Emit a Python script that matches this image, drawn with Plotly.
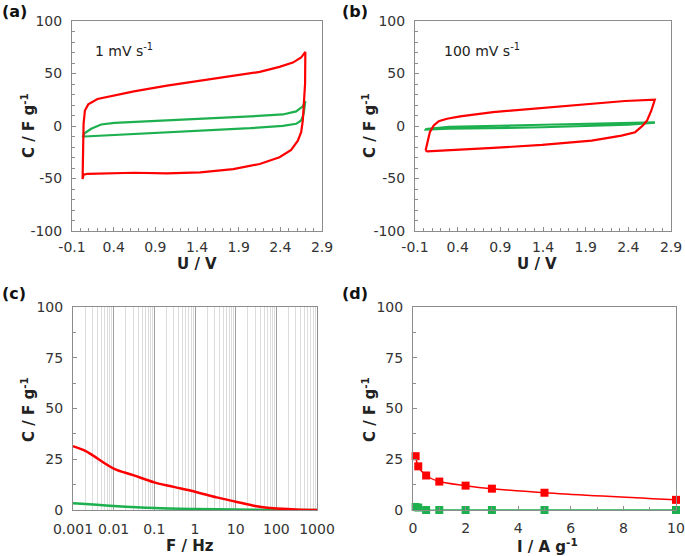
import plotly.graph_objects as go

# ---------------- data ----------------
# (a) CV at 1 mV/s
a_red_U = [0.027, 0.031, 0.039, 0.055, 0.095, 0.206, 0.405, 0.643, 1.04, 1.44, 1.835, 2.153, 2.39, 2.55, 2.65, 2.70,
           2.697, 2.685, 2.67, 2.65, 2.61, 2.53, 2.39, 2.153, 1.835, 1.44, 1.04, 0.643, 0.246, 0.087, 0.039, 0.027]
a_red_C = [-50.6, -23.4, 2.1, 14.8, 20.6, 25.7, 29.2, 33.0, 38.4, 43.2, 47.4, 51.5, 56.3, 60.4, 65.2, 70.6,
           40.3, 18.0, 5.3, -5.9, -13.9, -22.8, -29.8, -36.2, -41.0, -44.2, -45.1, -44.5, -44.8, -45.5, -46.4, -50.6]
a_grn_U = [0.027, 0.05, 0.13, 0.25, 0.41, 0.85, 1.44, 2.04, 2.43, 2.59, 2.67, 2.70,
           2.68, 2.65, 2.59, 2.43, 2.04, 1.44, 0.85, 0.25, 0.05, 0.027]
a_grn_C = [-10.7, -6.9, -2.7, 1.4, 3.0, 4.6, 6.5, 9.1, 11.0, 13.9, 18.7, 23.8,
           11.6, 5.3, 2.1, 0.2, -2.1, -4.3, -6.9, -9.1, -10.0, -10.7]

# (b) CV at 100 mV/s
b_red_U = [0.024, 0.074, 0.12, 0.178, 0.275, 0.43, 0.815, 1.39, 1.97, 2.36, 2.71,
           2.67, 2.62, 2.57, 2.48, 2.32, 1.97, 1.39, 0.815, 0.236, 0.043, 0.024]
b_red_C = [-23.4, -5.9, 0.5, 4.6, 6.9, 9.1, 13.2, 17.4, 21.2, 23.8, 25.0,
           14.8, 5.3, 0.5, -5.9, -9.1, -13.9, -18.0, -20.9, -22.8, -24.1, -23.4]
b_grn_U = [0.02, 0.3, 1.4, 2.7, 2.7, 2.4, 1.4, 0.3, 0.02, 0.02]
b_grn_C = [-3.0, -0.8, 1.2, 3.5, 3.0, 1.2, -1.2, -2.6, -3.5, -3.0]

# (c) capacitance vs frequency
c_red_F = [0.001, 0.002, 0.003, 0.01, 0.03, 0.1, 0.3, 1, 3.4, 10, 30, 60, 100, 300, 1000]
c_red_C = [31.4, 29.1, 27.0, 20.4, 17.2, 13.6, 11.4, 9.0, 6.2, 4.1, 2.0, 1.1, 0.8, 0.3, 0.0]
c_grn_F = [0.001, 0.01, 0.1, 1, 10, 100, 1000]
c_grn_C = [3.3, 2.0, 1.0, 0.5, 0.2, 0.05, 0.0]

# (d) capacitance vs current density
d_I = [0.1, 0.2, 0.5, 1, 2, 3, 5, 10]
d_red_C = [26.5, 21.5, 17.0, 14.0, 12.0, 10.5, 8.5, 5.0]
d_grn_C = [1.5, 1.2, 0.0, 0.0, 0.0, 0.0, 0.0, 0.0]

# tick labels
U_ticks = [-0.1, 0.4, 0.9, 1.4, 1.9, 2.4, 2.9]
U_ticktext = ["-0.1", "0.4", "0.9", "1.4", "1.9", "2.4", "2.9"]
Ccv_ticks = [-100, -50, 0, 50, 100]
Ccv_ticktext = ["-100", "-50", "0", "50", "100"]
F_ticks = [0.001, 0.01, 0.1, 1, 10, 100, 1000]
F_ticktext = ["0.001", "0.01", "0.1", "1", "10", "100", "1000"]
F_minor = [m * 10.0 ** e for e in range(-3, 3) for m in range(2, 10)]

RED = "#FF0000"
GREEN = "#1DB04F"
W, H = 685, 556

def dx(p0, p1):
    return [p0 / W, p1 / W]

def dy(p_top, p_bot):
    return [1 - p_bot / H, 1 - p_top / H]

fig = go.Figure()

fig.add_trace(go.Scatter(x=a_grn_U, y=a_grn_C, mode="lines", line=dict(color=GREEN, width=2.2), xaxis="x", yaxis="y"))
fig.add_trace(go.Scatter(x=a_red_U, y=a_red_C, mode="lines", line=dict(color=RED, width=2.2), xaxis="x", yaxis="y"))
fig.add_trace(go.Scatter(x=b_grn_U, y=b_grn_C, mode="lines", line=dict(color=GREEN, width=2.2), xaxis="x2", yaxis="y2"))
fig.add_trace(go.Scatter(x=b_red_U, y=b_red_C, mode="lines", line=dict(color=RED, width=2.2), xaxis="x2", yaxis="y2"))
fig.add_trace(go.Scatter(x=c_grn_F, y=c_grn_C, mode="lines", line=dict(color=GREEN, width=2.5, shape="spline"), xaxis="x3", yaxis="y3"))
fig.add_trace(go.Scatter(x=c_red_F, y=c_red_C, mode="lines", line=dict(color=RED, width=2.5, shape="spline"), xaxis="x3", yaxis="y3"))
fig.add_trace(go.Scatter(x=d_I, y=d_grn_C, mode="lines+markers", line=dict(color=GREEN, width=1.5, shape="spline"),
                         marker=dict(symbol="square", size=8, color=GREEN), cliponaxis=False, xaxis="x4", yaxis="y4"))
fig.add_trace(go.Scatter(x=d_I, y=d_red_C, mode="lines+markers", line=dict(color=RED, width=1.5, shape="spline"),
                         marker=dict(symbol="square", size=8, color=RED), cliponaxis=False, xaxis="x4", yaxis="y4"))

AXC = "#8C8C8C"
TICKF = dict(family="DejaVu Sans, Verdana, sans-serif", size=14, color="#333333")

def lin_axis(domain, rng, dtick, minor_dtick, anchor, standoff, tickvals=None, ticktext=None):
    d = dict(domain=domain, range=rng, showgrid=False, zeroline=False,
             showline=True, linecolor=AXC, linewidth=1, mirror=True, ticks="inside", ticklen=4,
             tickcolor=AXC, tickfont=TICKF, anchor=anchor, fixedrange=True, automargin=False,
             ticklabelstandoff=standoff,
             minor=dict(dtick=minor_dtick, tick0=rng[0], ticks="inside", ticklen=3, tickcolor=AXC, showgrid=False))
    if tickvals is not None:
        d.update(tickmode="array", tickvals=tickvals, ticktext=ticktext)
    else:
        d.update(dtick=dtick, tick0=rng[0])
    return d

layout = dict(width=W, height=H, margin=dict(l=0, r=0, t=0, b=0, pad=0, autoexpand=False), showlegend=False,
              paper_bgcolor="white", plot_bgcolor="white")

top = dy(21, 231)
bot = dy(307, 510)
layout["xaxis"] = lin_axis(dx(72, 322), [-0.1, 2.9], 0.5, 0.1, "y", 3, U_ticks, U_ticktext)
layout["yaxis"] = lin_axis(top, [-100, 100], 50, 10, "x", 6, Ccv_ticks, Ccv_ticktext)
layout["xaxis2"] = lin_axis(dx(415, 671), [-0.1, 2.9], 0.5, 0.1, "y2", 3, U_ticks, U_ticktext)
layout["yaxis2"] = lin_axis(top, [-100, 100], 50, 10, "x2", 6, Ccv_ticks, Ccv_ticktext)
layout["xaxis3"] = dict(domain=dx(73, 317), type="log", range=[-3, 3], tickmode="array",
                        tickvals=F_ticks, ticktext=F_ticktext,
                        showgrid=True, gridcolor="#A0A0A0", gridwidth=1, zeroline=False,
                        showline=True, linecolor=AXC, mirror=True, ticks="", tickfont=TICKF, anchor="y3",
                        fixedrange=True, automargin=False, ticklabelstandoff=6,
                        minor=dict(tickmode="array", tickvals=F_minor, showgrid=True,
                                   gridcolor="#DCDCDC", gridwidth=1, ticks=""))
layout["yaxis3"] = lin_axis(bot, [0, 100], 25, 12.5, "x3", 6)
layout["xaxis4"] = lin_axis(dx(413, 676), [0, 10], 2, 1, "y4", 5)
layout["yaxis4"] = lin_axis(bot, [0, 100], 25, 12.5, "x4", 6)

fig.update_layout(**layout)

TF = dict(family="DejaVu Sans, Verdana, sans-serif", size=15, color="#222222")
LF = dict(family="DejaVu Sans, Verdana, sans-serif", size=16, color="#111111")
NF = dict(family="DejaVu Sans, Verdana, sans-serif", size=14, color="#222222")

def ann(text, px, py, font, angle=0, xanchor="center", yanchor="middle"):
    fig.add_annotation(text=text, x=px / W, y=1 - py / H, xref="paper", yref="paper", showarrow=False,
                       font=font, textangle=angle, xanchor=xanchor, yanchor=yanchor)

# panel labels
ann("<b>(a)</b>", 0, 12, LF, xanchor="left")
ann("<b>(b)</b>", 340, 12, LF, xanchor="left")
ann("<b>(c)</b>", 0, 293, LF, xanchor="left")
ann("<b>(d)</b>", 340, 293, LF, xanchor="left")
# y titles
ann("<b>C / F g<sup>-1</sup></b>", 28, 126, TF, angle=-90)
ann("<b>C / F g<sup>-1</sup></b>", 369, 126, TF, angle=-90)
ann("<b>C / F g<sup>-1</sup></b>", 28, 410, TF, angle=-90)
ann("<b>C / F g<sup>-1</sup></b>", 369, 410, TF, angle=-90)
# x titles
ann("<b>U / V</b>", 197, 264, TF)
ann("<b>U / V</b>", 537, 264, TF)
ann("<b>F / Hz</b>", 190, 546, TF)
ann("<b>I / A g<sup>-1</sup></b>", 547, 546, TF)
# scan-rate notes
ann("1 mV s<sup>-1</sup>", 93, 50, NF, xanchor="left")
ann("100 mV s<sup>-1</sup>", 442, 50, NF, xanchor="left")

fig.write_html("out.html", config={"displayModeBar": False, "staticPlot": True},
               post_script="document.body.style.margin='0px';")
